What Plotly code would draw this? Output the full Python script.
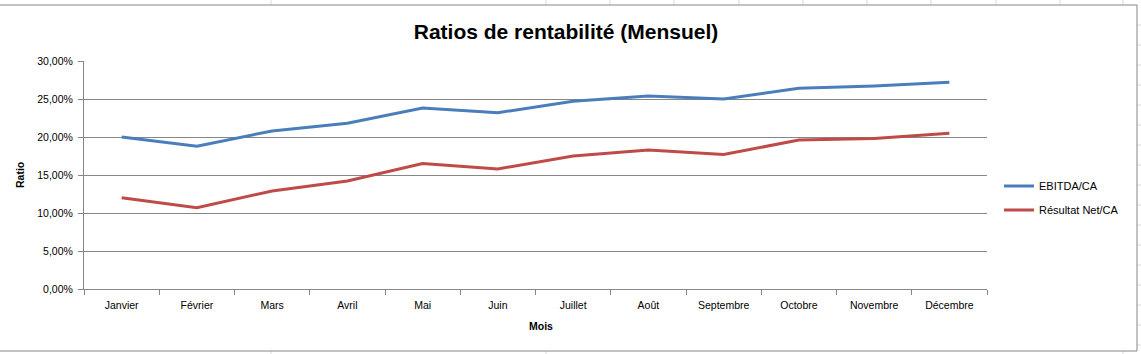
import plotly.graph_objects as go

mois = ["Janvier", "Février", "Mars", "Avril", "Mai", "Juin", "Juillet",
        "Août", "Septembre", "Octobre", "Novembre", "Décembre"]
ebitda_ca = [0.200, 0.188, 0.208, 0.218, 0.238, 0.232, 0.247, 0.254, 0.250, 0.264, 0.267, 0.272]
resultat_net_ca = [0.120, 0.107, 0.129, 0.142, 0.165, 0.158, 0.175, 0.183, 0.177, 0.196, 0.198, 0.205]

W, H = 1141, 354
L, R, T, B = 84, 987, 61, 289
FONT = "Liberation Sans"


def xp(px):
    return (px - L) / (R - L)


def yp(py):
    return (B - py) / (B - T)


fig = go.Figure()
fig.add_trace(go.Scatter(x=mois, y=ebitda_ca, mode="lines", name="EBITDA/CA",
                         legendgroup="a", line=dict(color="#4A7EBB", width=3)))
fig.add_trace(go.Scatter(x=mois, y=resultat_net_ca, mode="lines", name="Résultat Net/CA",
                         legendgroup="b", line=dict(color="#BE4B48", width=3)))

shapes = []
sheet = "#D9D9D9"
# spreadsheet cell lines outside the chart
for x in [271, 546, 610, 674, 739, 803, 867, 931, 996, 1060, 1123]:
    shapes.append(dict(type="line", xref="paper", yref="paper", x0=xp(x), x1=xp(x),
                       y0=yp(0), y1=yp(5), line=dict(color=sheet, width=1), layer="below"))
for x in [271, 546, 1123]:
    shapes.append(dict(type="line", xref="paper", yref="paper", x0=xp(x), x1=xp(x),
                       y0=yp(351), y1=yp(354), line=dict(color=sheet, width=1), layer="below"))
for y in range(25, 350, 20):
    shapes.append(dict(type="line", xref="paper", yref="paper", x0=xp(1137), x1=xp(1141),
                       y0=yp(y), y1=yp(y), line=dict(color=sheet, width=1), layer="below"))
# chart frame
shapes.append(dict(type="rect", xref="paper", yref="paper", x0=xp(-1), x1=xp(1137),
                   y0=yp(351), y1=yp(5), line=dict(color="#868686", width=1), layer="below"))

fig.update_layout(
    width=W, height=H,
    margin=dict(l=L, r=W - R, t=T, b=H - B),
    paper_bgcolor="white", plot_bgcolor="white",
    separators=", ",
    font=dict(family=FONT, size=11, color="#000000"),
    title=dict(text="<b>Ratios de rentabilité (Mensuel)</b>", xref="container", x=566 / W,
               xanchor="center", y=1 - 32 / H, yanchor="middle", yref="container",
               font=dict(family=FONT, size=21, color="#000000")),
    xaxis=dict(type="category", range=[-0.5, 11.5], showgrid=False, showline=True,
               linecolor="#868686", linewidth=1, ticks="outside", tickson="boundaries",
               ticklen=5, tickcolor="#868686", tickfont=dict(size=10.5),
               ticklabelstandoff=6, fixedrange=True),
    yaxis=dict(range=[0, 0.30], dtick=0.05, tickformat=".2%", showgrid=True,
               gridcolor="#868686", gridwidth=1, showline=True, linecolor="#868686",
               ticks="outside", ticklen=5, tickcolor="#868686", tickfont=dict(size=10.5),
               ticklabelstandoff=3, zeroline=False, fixedrange=True),
    legend=dict(x=xp(999), xanchor="left", y=yp(198), yanchor="middle",
                traceorder="grouped", tracegroupgap=5,
                font=dict(size=11), bgcolor="rgba(0,0,0,0)"),
    shapes=shapes,
    annotations=[
        dict(text="<b>Ratio</b>", xref="paper", yref="paper", x=xp(20), y=yp(175),
             xanchor="center", yanchor="middle", textangle=-90, showarrow=False,
             font=dict(size=10.5)),
        dict(text="<b>Mois</b>", xref="paper", yref="paper", x=xp(541), y=yp(326),
             xanchor="center", yanchor="middle", showarrow=False, font=dict(size=10.5)),
    ],
)

fig.write_html("out.html", config={"displayModeBar": False})
